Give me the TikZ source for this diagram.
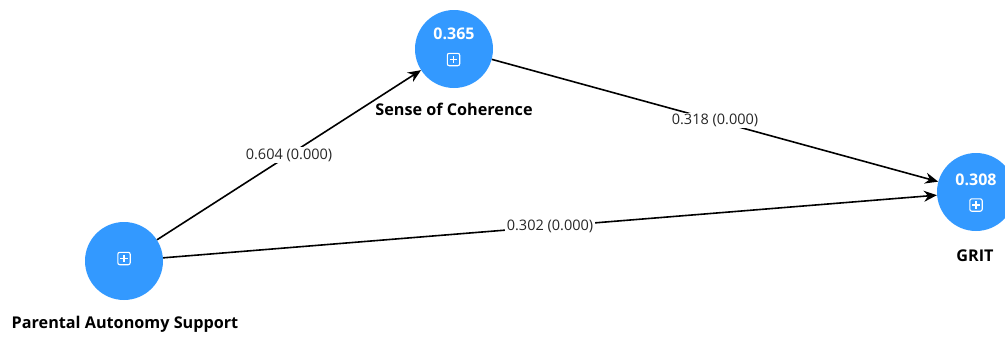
\documentclass[tikz,border=0pt]{standalone}
\usepackage{fontspec}
\setmainfont{Open Sans}
\usetikzlibrary{arrows.meta,calc}
\definecolor{nodeblue}{HTML}{3399FF}
\tikzset{
  lv/.style={circle, fill=nodeblue, minimum size=78pt, inner sep=0pt},
  lvname/.style={font=\bfseries\fontsize{16.2}{18}\selectfont, text=black},
  r2/.style={font=\bfseries\fontsize{16}{18}\selectfont, text=white},
  path/.style={line width=1.6pt, -{Stealth[length=13pt,width=11pt]}},
  coef/.style={font=\fontsize{14.5}{16}\selectfont, fill=white, inner sep=1.5pt, text=black!85},
}
\newcommand{\plusicon}[1]{%
  \draw[white, line width=1.1pt, rounded corners=2pt] ($(#1)+(-6.2,-6.2)$) rectangle ($(#1)+(6.2,6.2)$);
  \draw[white, line width=1.1pt] ($(#1)+(-3.6,0)$) -- ($(#1)+(3.6,0)$) ($(#1)+(0,-3.6)$) -- ($(#1)+(0,3.6)$);
}
\begin{document}
\begin{tikzpicture}[x=1pt,y=-1pt]
\useasboundingbox (0,0) rectangle (1005,338);
\node[lv] (pas) at (124,261) {};
\node[lv] (soc) at (454,49) {};
\node[lv] (grit) at (976,192) {};
\node[r2] (socr) at (454,34) {0.365};
\node[r2] (gritr) at (976,180) {0.308};
\coordinate (pasi) at (124,258.5);
\coordinate (soci) at (453.5,59.5);
\coordinate (griti) at (976,205);
\plusicon{pasi}
\plusicon{soci}
\plusicon{griti}
\node[lvname] (pasl) at (125,324) {Parental Autonomy Support};
\node[lvname] (socl) at (454,109) {Sense of Coherence};
\node[lvname] (gritl) at (975,256) {GRIT};
\draw[path] (pas) -- node[coef, pos=0.5] {0.604 (0.000)} (soc);
\draw[path] (soc) -- node[coef, pos=0.5] {0.318 (0.000)} (grit);
\draw[path] (pas) -- node[coef, pos=0.5] {0.302 (0.000)} (grit);
\end{tikzpicture}
\end{document}
